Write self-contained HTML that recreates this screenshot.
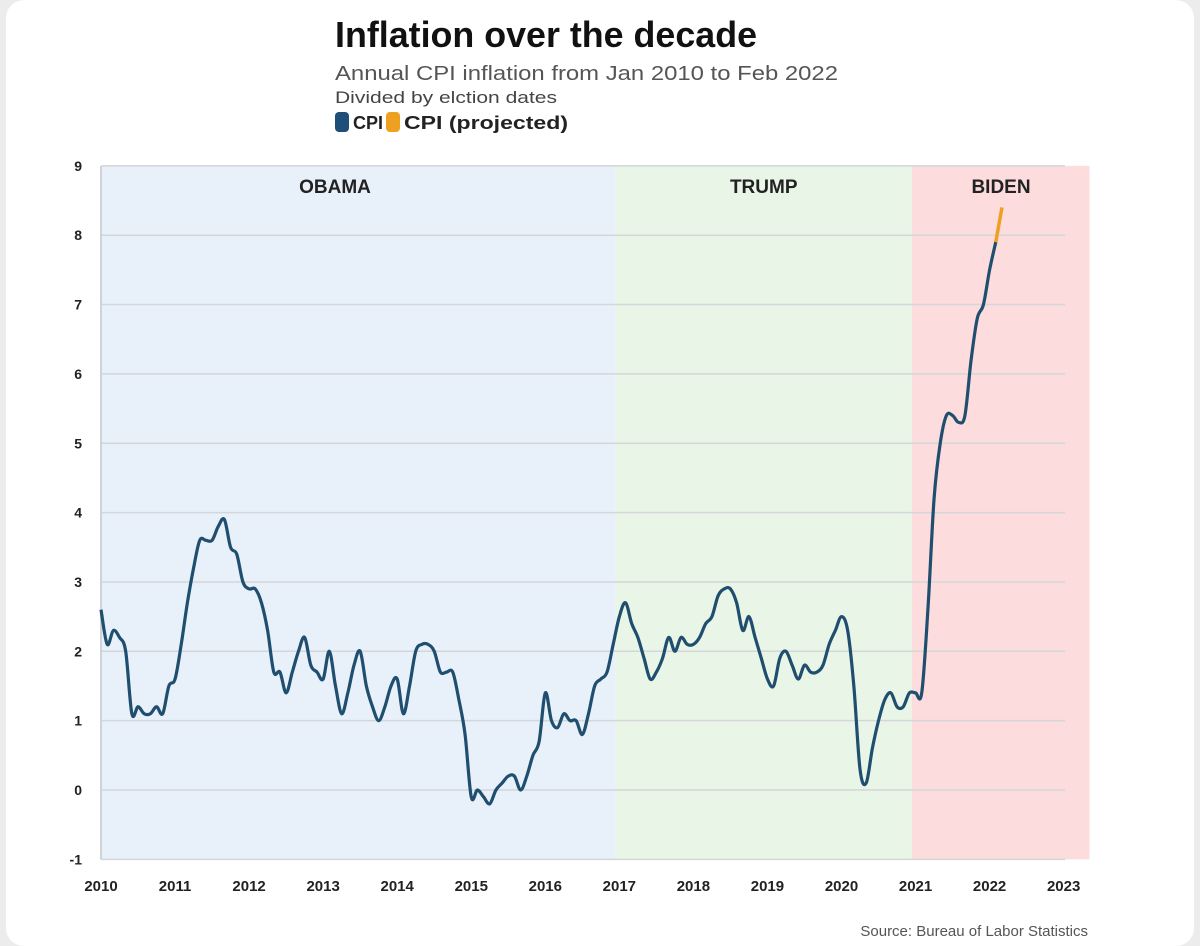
<!DOCTYPE html>
<html><head><meta charset="utf-8"><style>
body{margin:0;width:1200px;height:946px;background:#ececec;font-family:"Liberation Sans",sans-serif;overflow:hidden}
#card{position:absolute;left:6px;top:0;width:1188px;height:946px;background:#fff;border-radius:18px}
</style></head><body>
<div id="card"></div>
<svg id="chart" width="1200" height="946" style="position:absolute;left:0;top:0">
<text x="335" y="47" font-size="36" font-weight="bold" fill="#111" textLength="422" lengthAdjust="spacingAndGlyphs">Inflation over the decade</text>
<text x="335" y="80" font-size="20" fill="#555" textLength="503" lengthAdjust="spacingAndGlyphs">Annual CPI inflation from Jan 2010 to Feb 2022</text>
<text x="335" y="103" font-size="17" fill="#444" textLength="222" lengthAdjust="spacingAndGlyphs">Divided by elction dates</text>
<g>
<rect x="335" y="112" width="14" height="20" rx="4" fill="#1f4e79"/>
<text x="353" y="129" font-size="18" font-weight="bold" fill="#222">CPI</text>
<rect x="386" y="112" width="14" height="20" rx="4" fill="#f0a020"/>
<text x="404" y="129" font-size="18" font-weight="bold" fill="#222" textLength="164" lengthAdjust="spacingAndGlyphs">CPI (projected)</text>
</g>
<g id="plot"></g>
<text x="1088" y="936" font-size="15" fill="#555" text-anchor="end">Source: Bureau of Labor Statistics</text>
</svg>
<script>
const cpi=[2.6,2.1,2.3,2.2,2.0,1.1,1.2,1.1,1.1,1.2,1.1,1.5,
1.6,2.1,2.7,3.2,3.6,3.6,3.6,3.8,3.9,3.5,3.4,3.0,
2.9,2.9,2.7,2.3,1.7,1.7,1.4,1.7,2.0,2.2,1.8,1.7,
1.6,2.0,1.5,1.1,1.4,1.8,2.0,1.5,1.2,1.0,1.2,1.5,
1.6,1.1,1.5,2.0,2.1,2.1,2.0,1.7,1.7,1.7,1.3,0.8,
-0.1,0.0,-0.1,-0.2,0.0,0.1,0.2,0.2,0.0,0.2,0.5,0.7,
1.4,1.0,0.9,1.1,1.0,1.0,0.8,1.1,1.5,1.6,1.7,2.1,
2.5,2.7,2.4,2.2,1.9,1.6,1.7,1.9,2.2,2.0,2.2,2.1,
2.1,2.2,2.4,2.5,2.8,2.9,2.9,2.7,2.3,2.5,2.2,1.9,
1.6,1.5,1.9,2.0,1.8,1.6,1.8,1.7,1.7,1.8,2.1,2.3,
2.5,2.3,1.5,0.3,0.1,0.6,1.0,1.3,1.4,1.2,1.2,1.4,
1.4,1.4,2.6,4.2,5.0,5.4,5.4,5.3,5.4,6.2,6.8,7.0,
7.5,7.9];
const projected=[7.9,8.4];
const yTicks=[-1,0,1,2,3,4,5,6,7,8,9];
const xTicks=[2010,2011,2012,2013,2014,2015,2016,2017,2018,2019,2020,2021,2022,2023];
const eras=[{name:"OBAMA",from:2010,to:2016.95,color:"#e8f0f9"},{name:"TRUMP",from:2016.95,to:2020.95,color:"#e9f5e6"},{name:"BIDEN",from:2020.95,to:2023.35,color:"#fcdcdc"}];
const ns="http://www.w3.org/2000/svg";
const X=v=>101+(v-2010)*74.05, Y=v=>790-v*69.35;
const g=document.getElementById('plot');
function mk(t,a,p){const e=document.createElementNS(ns,t);for(const k in a)e.setAttribute(k,a[k]);(p||g).appendChild(e);return e;}
eras.forEach(e=>{
 const r=mk('rect',{x:X(e.from),y:Y(9),width:X(e.to)-X(e.from),height:Y(-1)-Y(9),fill:e.color});
 
 
});
yTicks.forEach(v=>{
 const l=mk('line',{x1:101,x2:1065,y1:Y(v),y2:Y(v),stroke:"#d4d6da","stroke-width":1.5});
 
 
 const t=mk('text',{x:82,y:Y(v)+5,"font-size":14,"font-weight":"bold","text-anchor":"end",fill:"#222"});
 t.textContent=v;
 
 
});
const ax=mk('line',{x1:101,x2:101,y1:Y(9),y2:Y(-1),stroke:"#cfd3d8","stroke-width":2});


xTicks.forEach(v=>{
 const t=mk('text',{x:X(v),y:891,"font-size":15,"font-weight":"bold","text-anchor":"middle",fill:"#222"});
 t.textContent=v;
 
 
});
eras.forEach(e=>{
 const c=e.name==="BIDEN"?1001:(e.name==="OBAMA"?335:(X(e.from)+X(e.to))/2);
 const t=mk('text',{x:c,y:193,"font-size":19,"font-weight":"bold","text-anchor":"middle",fill:"#222"});
 t.textContent=e.name;
 
 
});
function path(pts){let d="M"+pts[0][0]+","+pts[0][1];
 for(let i=0;i<pts.length-1;i++){const p0=pts[i-1]||pts[i],p1=pts[i],p2=pts[i+1],p3=pts[i+2]||p2;
  d+=" C"+(p1[0]+(p2[0]-p0[0])/6)+","+(p1[1]+(p2[1]-p0[1])/6)+" "+(p2[0]-(p3[0]-p1[0])/6)+","+(p2[1]-(p3[1]-p1[1])/6)+" "+p2[0]+","+p2[1];}
 return d;}
const pts=cpi.map((v,i)=>[X(2010+i/12),Y(v)]);
const s=cpi.length-1;
const pp=projected.map((v,i)=>[X(2010+(s+i)/12),Y(v)]);
const lp=mk('path',{d:path(pp),fill:"none",stroke:"#f0a020","stroke-width":3.5});


const l=mk('path',{d:path(pts),fill:"none",stroke:"#1f4e6e","stroke-width":3.2,"stroke-linejoin":"round"});


</script>
</body></html>
